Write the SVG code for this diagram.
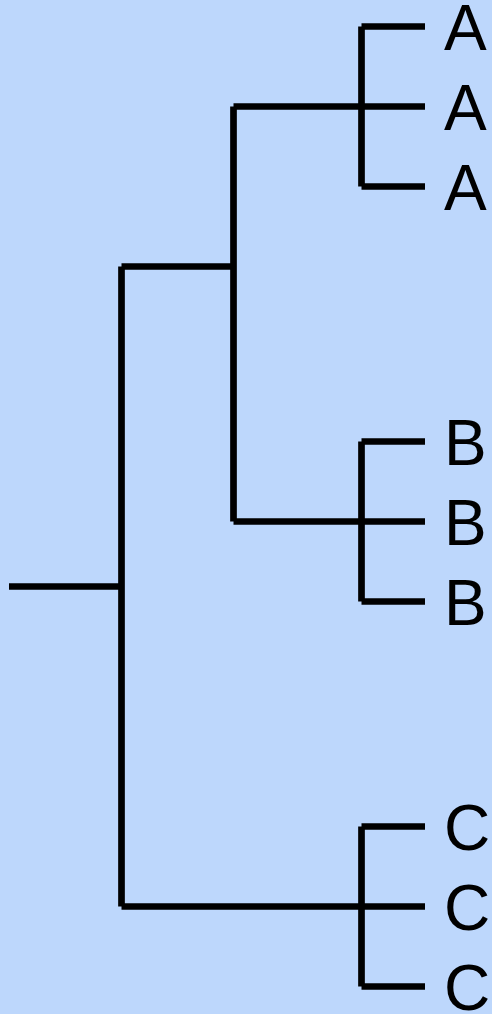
<svg xmlns="http://www.w3.org/2000/svg" width="492" height="1014" viewBox="0 0 492 1014">
<style>
.e{stroke:#000;stroke-width:6.7;stroke-linecap:butt;fill:none}
.t{font-family:"Liberation Sans",Arial,sans-serif;font-size:64px;fill:#000}
</style>
<rect width="492" height="1014" fill="#bdd7fc"/>
<g id="connectors">
<line class="e" x1="9" y1="586.5" x2="121.5" y2="586.5"/>
<line class="e" x1="121.5" y1="266.5" x2="121.5" y2="906.5"/>
<line class="e" x1="121.5" y1="266.5" x2="233.5" y2="266.5"/>
<line class="e" x1="121.5" y1="906.5" x2="361.5" y2="906.5"/>
<line class="e" x1="233.5" y1="106.5" x2="233.5" y2="521.5"/>
<line class="e" x1="233.5" y1="106.5" x2="361.5" y2="106.5"/>
<line class="e" x1="233.5" y1="521.5" x2="361.5" y2="521.5"/>
<line class="e" x1="361.5" y1="26.5" x2="361.5" y2="186.5"/>
<line class="e" x1="361.5" y1="441.5" x2="361.5" y2="601.5"/>
<line class="e" x1="361.5" y1="826.5" x2="361.5" y2="986.5"/>
<line class="e" x1="361.5" y1="26.5" x2="425" y2="26.5"/>
<line class="e" x1="361.5" y1="106.5" x2="425" y2="106.5"/>
<line class="e" x1="361.5" y1="186.5" x2="425" y2="186.5"/>
<line class="e" x1="361.5" y1="441.5" x2="425" y2="441.5"/>
<line class="e" x1="361.5" y1="521.5" x2="425" y2="521.5"/>
<line class="e" x1="361.5" y1="601.5" x2="425" y2="601.5"/>
<line class="e" x1="361.5" y1="826.5" x2="425" y2="826.5"/>
<line class="e" x1="361.5" y1="906.5" x2="425" y2="906.5"/>
<line class="e" x1="361.5" y1="986.5" x2="425" y2="986.5"/>
</g>
<g id="leaf-a1"><text class="t" x="444" y="50">A</text></g>
<g id="leaf-a2"><text class="t" x="444" y="130">A</text></g>
<g id="leaf-a3"><text class="t" x="444" y="210">A</text></g>
<g id="leaf-b1"><text class="t" x="444" y="465">B</text></g>
<g id="leaf-b2"><text class="t" x="444" y="545">B</text></g>
<g id="leaf-b3"><text class="t" x="444" y="625">B</text></g>
<g id="leaf-c1"><text class="t" x="444" y="850">C</text></g>
<g id="leaf-c2"><text class="t" x="444" y="930">C</text></g>
<g id="leaf-c3"><text class="t" x="444" y="1010">C</text></g>
</svg>
